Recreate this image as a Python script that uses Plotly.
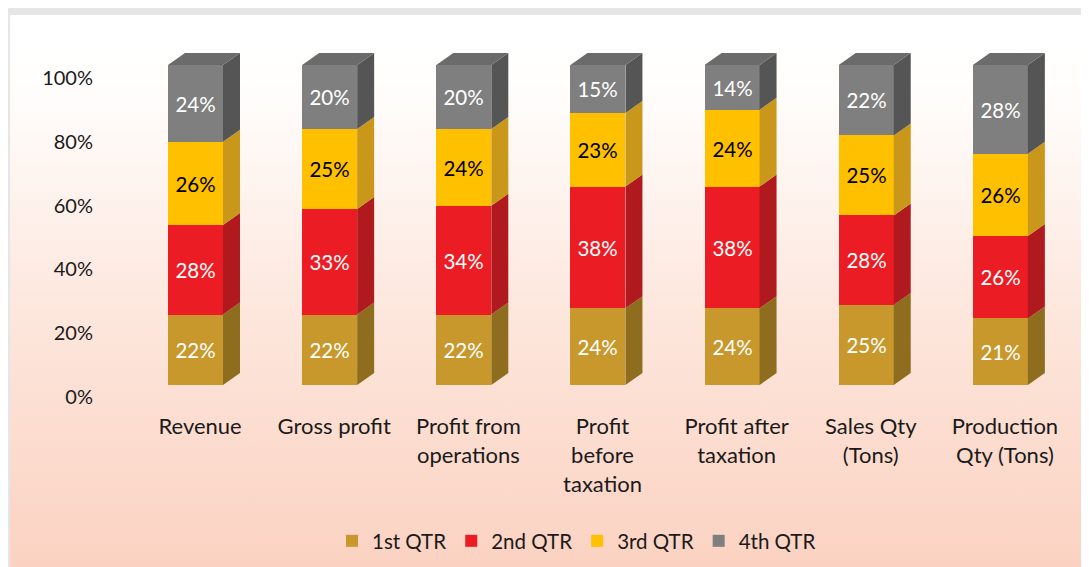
import base64
import numpy as np
import plotly.graph_objects as go

categories = ["Revenue", "Gross profit", "Profit from<br>operations", "Profit<br>before<br>taxation",
              "Profit after<br>taxation", "Sales Qty<br>(Tons)", "Production<br>Qty (Tons)"]
series_names = ["1st QTR", "2nd QTR", "3rd QTR", "4th QTR"]
q1 = [22, 22, 22, 24, 24, 25, 21]
q2 = [28, 33, 34, 38, 38, 28, 26]
q3 = [26, 25, 24, 23, 24, 25, 26]
q4 = [24, 20, 20, 15, 14, 22, 28]
y_ticks = [0, 20, 40, 60, 80, 100]
y_tick_labels = ["0%", "20%", "40%", "60%", "80%", "100%"]

front_colors = ["#C8982C", "#EC1C24", "#FFC000", "#7F7F7F"]
side_colors = ["#8F6D1E", "#B01A1E", "#C9971A", "#555555"]
top_color = "#6B6B6B"
text_colors = ["white", "white", "black", "white"]

# figure sits inside the page's 8px body margin
W, H = 1081, 559
L, R, T, B = 125, 16.5, 32, 170
plot_w = W - L - R
plot_h = H - T - B
px_per_x = plot_w / 7.0
px_per_y = 3.2
y0_front = 12 / px_per_y  # front face floor is 12px above axis floor
y_range = [-y0_front, plot_h / px_per_y - y0_front]

offset_c = -0.034
bw = 0.41
dx = 17 / px_per_x
dy = 12 / px_per_y

FONT = "Lato"
fig = go.Figure()

raw = np.array([q1, q2, q3, q4], dtype=float)
data = raw / raw.sum(axis=0) * 100.0  # 100% stacked
bases = np.vstack([np.zeros(len(categories)), np.cumsum(data, axis=0)[:-1]])
xs = np.arange(len(categories)) + offset_c

for k, name in enumerate(series_names):
    fig.add_trace(go.Bar(
        x=xs, y=data[k], base=bases[k], width=bw, name=name,
        marker=dict(color=front_colors[k], line=dict(width=0)),
        text=[f"{int(v)}%" for v in raw[k]], textposition="inside",
        insidetextanchor="middle", textangle=0,
        textfont=dict(family=FONT, size=20.5, color=text_colors[k]),
        hoverinfo="skip",
    ))

# side faces
for k in range(4):
    for i in range(len(categories)):
        xr = xs[i] + bw / 2
        b = bases[k][i]
        t = b + data[k][i]
        fig.add_trace(go.Scatter(
            x=[xr, xr + dx, xr + dx, xr, xr], y=[b, b + dy, t + dy, t, b],
            fill="toself", fillcolor=side_colors[k], mode="none",
            showlegend=False, hoverinfo="skip"))

# top faces
for i in range(len(categories)):
    xl = xs[i] - bw / 2
    xr = xs[i] + bw / 2
    top = data[:, i].sum()
    fig.add_trace(go.Scatter(
        x=[xl, xl + dx, xr + dx, xr, xl], y=[top, top + dy, top + dy, top, top],
        fill="toself", fillcolor=top_color, mode="none",
        showlegend=False, hoverinfo="skip"))

# axis for tick labels (0% sits at the axis floor)
fig.add_trace(go.Scatter(x=[0], y=[0], yaxis="y2", mode="none", showlegend=False, hoverinfo="skip"))

svg = '''<svg xmlns="http://www.w3.org/2000/svg" width="100" height="100" preserveAspectRatio="none">
<defs><linearGradient id="g" x1="0" y1="0" x2="0" y2="1">
<stop offset="0" stop-color="#FFFFFF"/><stop offset="0.12" stop-color="#FFFEFD"/>
<stop offset="0.55" stop-color="#FDE6DC"/><stop offset="1" stop-color="#FBD2C2"/></linearGradient></defs>
<rect width="100" height="100" fill="url(#g)"/></svg>'''
src = "data:image/svg+xml;base64," + base64.b64encode(svg.encode()).decode()

img_left, img_top = 2, 7
fig.add_layout_image(dict(
    source=src, xref="paper", yref="paper",
    x=(img_left - L) / plot_w, y=(H - B - img_top) / plot_h,
    sizex=(W - img_left) / plot_w, sizey=(H - img_top) / plot_h,
    xanchor="left", yanchor="top", sizing="stretch", layer="below"))

fig.update_layout(
    width=W, height=H,
    margin=dict(l=L, r=R, t=T, b=B, pad=0),
    paper_bgcolor="#E6E6E6", plot_bgcolor="rgba(0,0,0,0)",
    barmode="overlay", bargap=0,
    font=dict(family=FONT, size=20, color="#1A1A1A"),
    xaxis=dict(range=[-0.5, 6.5], tickmode="array", tickvals=list(range(len(categories))),
               ticktext=categories, showgrid=False, zeroline=False, showline=False,
               ticks="outside", ticklen=10, tickcolor="rgba(0,0,0,0)",
               tickfont=dict(family=FONT, size=22, color="#1A1A1A")),
    yaxis=dict(range=y_range, visible=False, fixedrange=True),
    yaxis2=dict(range=[0, plot_h / 3.19], overlaying="y", side="left",
                tickmode="array", tickvals=y_ticks, ticktext=y_tick_labels,
                showgrid=False, zeroline=False, showline=False,
                ticks="outside", ticklen=35, tickcolor="rgba(0,0,0,0)",
                tickfont=dict(family=FONT, size=20, color="#1A1A1A")),
    legend=dict(orientation="h", x=0.5 + 28 / W, xanchor="center", xref="container",
                y=(H - 533) / H, yref="container", yanchor="middle",
                font=dict(family=FONT, size=20.5, color="#1A1A1A"),
                bgcolor="rgba(0,0,0,0)", itemwidth=30, traceorder="normal"),
    uniformtext=dict(mode="show", minsize=10),
)

fig.write_html("out.html")
